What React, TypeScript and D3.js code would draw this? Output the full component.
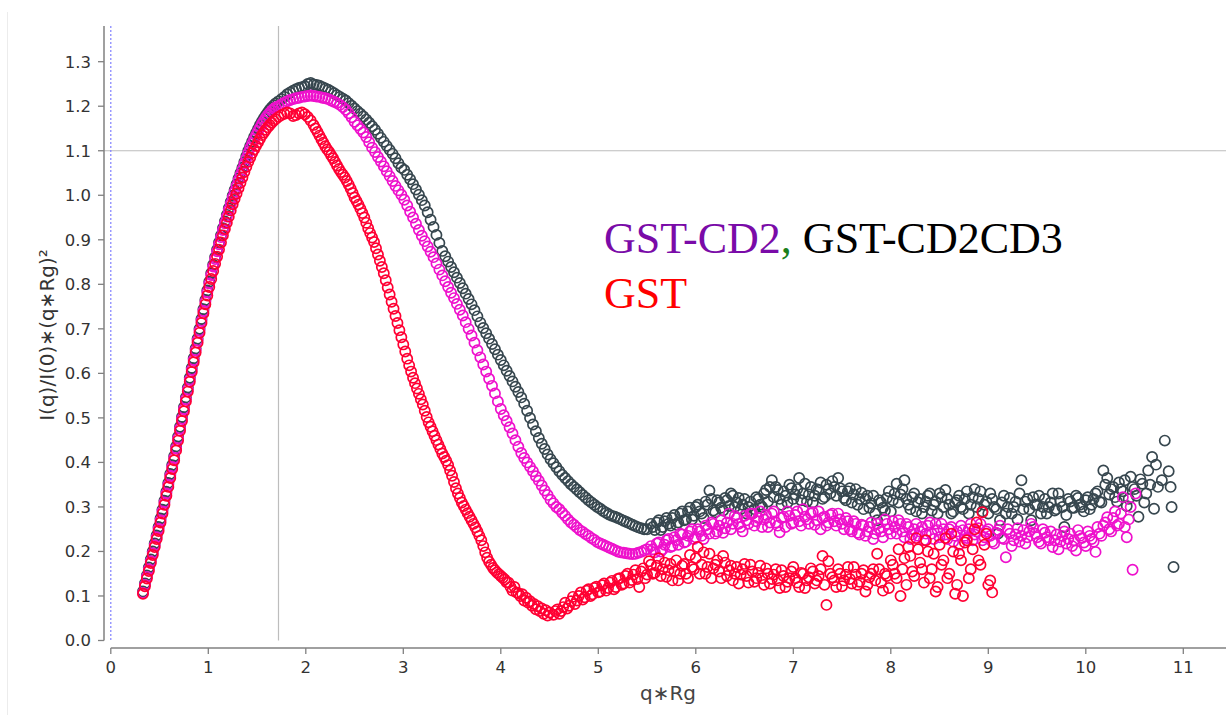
import React from 'react';
import * as d3 from 'd3';

const W = 1226;
const H = 715;

const xTicks = [0, 1, 2, 3, 4, 5, 6, 7, 8, 9, 10, 11];
const yTicks = [0, 0.1, 0.2, 0.3, 0.4, 0.5, 0.6, 0.7, 0.8, 0.9, 1.0, 1.1, 1.2, 1.3];
const xLabel = 'q\u2217Rg';
const yLabel = 'I(q)/I(0)\u2217(q\u2217Rg)\u00B2';
const guideQ = 1.72;
const guideI = 1.1;

type P = [number, number];

// ---------- GST (red) ----------
const GST_RISE: P[] = [[0.33,0.105],[0.35,0.122],[0.37,0.139],[0.39,0.156],[0.41,0.174],[0.43,0.192],[0.45,0.210],[0.47,0.228],[0.49,0.246],[0.51,0.265],[0.53,0.285],[0.55,0.305],[0.57,0.325],[0.59,0.345],[0.61,0.365],[0.63,0.385],[0.65,0.405],[0.67,0.427],[0.69,0.449],[0.71,0.471],[0.73,0.493],[0.75,0.515],[0.77,0.537],[0.79,0.559],[0.81,0.581],[0.83,0.603],[0.85,0.625],[0.87,0.647],[0.89,0.669],[0.91,0.691],[0.93,0.713],[0.95,0.735],[0.97,0.755],[0.99,0.775],[1.01,0.794],[1.03,0.812],[1.05,0.830],[1.07,0.846],[1.09,0.862],[1.11,0.878],[1.13,0.894],[1.15,0.910],[1.17,0.924],[1.19,0.938],[1.21,0.952],[1.23,0.966],[1.25,0.980],[1.27,0.992],[1.29,1.004],[1.31,1.016],[1.33,1.028],[1.35,1.040],[1.37,1.052],[1.39,1.064],[1.41,1.075],[1.43,1.085],[1.45,1.095],[1.47,1.103],[1.49,1.111],[1.51,1.119],[1.53,1.127],[1.55,1.135],[1.57,1.141],[1.59,1.147],[1.61,1.153],[1.63,1.158],[1.65,1.163],[1.67,1.167],[1.69,1.171]];
const GST_PEAK: P[] = [[1.72,1.176],[1.75,1.180],[1.78,1.183],[1.81,1.186],[1.84,1.184],[1.87,1.178],[1.90,1.180],[1.93,1.184],[1.96,1.186],[1.99,1.182],[2.02,1.176],[2.05,1.168],[2.08,1.158]];
const GST_FALL: P[] = [[2.10,1.150],[2.12,1.142],[2.14,1.134],[2.16,1.126],[2.18,1.118],[2.20,1.110],[2.22,1.103],[2.24,1.097],[2.26,1.090],[2.28,1.083],[2.30,1.075],[2.32,1.067],[2.34,1.059],[2.36,1.052],[2.38,1.046],[2.40,1.040],[2.42,1.032],[2.44,1.024],[2.46,1.015],[2.48,1.005],[2.50,0.995],[2.52,0.987],[2.54,0.979],[2.56,0.970],[2.58,0.960],[2.60,0.950],[2.62,0.938],[2.64,0.926],[2.66,0.915],[2.68,0.905],[2.70,0.895],[2.72,0.881],[2.74,0.867],[2.76,0.853],[2.78,0.839],[2.80,0.825],[2.82,0.809],[2.84,0.793],[2.86,0.777],[2.88,0.761],[2.90,0.745],[2.92,0.729],[2.94,0.713],[2.96,0.697],[2.98,0.681],[3.00,0.665],[3.02,0.649],[3.04,0.633],[3.06,0.618],[3.08,0.604],[3.10,0.590],[3.12,0.578],[3.14,0.566],[3.16,0.554],[3.18,0.542],[3.20,0.530],[3.22,0.516],[3.24,0.502],[3.26,0.490],[3.28,0.480],[3.30,0.470],[3.32,0.460],[3.34,0.450],[3.36,0.440],[3.38,0.430],[3.40,0.420],[3.42,0.412],[3.44,0.404],[3.46,0.394],[3.48,0.382],[3.50,0.370],[3.52,0.356],[3.54,0.342],[3.56,0.330],[3.58,0.320],[3.60,0.310],[3.62,0.302],[3.64,0.294],[3.66,0.286],[3.68,0.278],[3.70,0.270],[3.72,0.262],[3.74,0.254],[3.76,0.245],[3.78,0.235],[3.80,0.225],[3.82,0.212],[3.84,0.198],[3.86,0.186],[3.88,0.177],[3.90,0.170],[3.92,0.163],[3.94,0.158],[3.96,0.153],[3.98,0.149],[4.00,0.145],[4.02,0.141],[4.04,0.137],[4.06,0.131],[4.08,0.130],[4.10,0.120],[4.12,0.112],[4.14,0.120],[4.16,0.108],[4.18,0.106],[4.20,0.100],[4.22,0.104],[4.24,0.090],[4.26,0.096],[4.28,0.085],[4.30,0.088],[4.32,0.078],[4.34,0.082],[4.36,0.070],[4.38,0.077],[4.40,0.066],[4.42,0.072],[4.44,0.060],[4.46,0.068],[4.48,0.056],[4.50,0.063]];
const GST_TAIL: P[] = [[4.54,0.058],[4.58,0.070],[4.62,0.066],[4.66,0.085],[4.70,0.078],[4.74,0.098],[4.78,0.090],[4.82,0.108],[4.86,0.097],[4.90,0.115],[4.94,0.104],[4.98,0.121],[5.02,0.110],[5.06,0.128],[5.10,0.118],[5.14,0.134],[5.18,0.120],[5.22,0.140],[5.26,0.128],[5.30,0.150],[5.34,0.136],[5.38,0.158],[5.42,0.120],[5.46,0.162],[5.50,0.148],[5.54,0.170],[5.58,0.152],[5.62,0.185],[5.66,0.160],[5.70,0.143],[5.74,0.172],[5.78,0.155],[5.82,0.135],[5.86,0.168],[5.90,0.150],[5.94,0.192],[5.98,0.160],[6.02,0.210],[6.06,0.170],[6.10,0.150],[6.14,0.195],[6.18,0.162],[6.22,0.180],[6.26,0.140],[6.30,0.175],[6.34,0.158],[6.38,0.135],[6.42,0.165],[6.46,0.148],[6.50,0.172],[6.54,0.130],[6.58,0.155],[6.62,0.140],[6.66,0.168],[6.70,0.125],[6.74,0.150],[6.78,0.138],[6.82,0.160],[6.86,0.118],[6.90,0.145],[6.94,0.132],[6.98,0.155],[7.02,0.140],[7.06,0.120],[7.10,0.150],[7.14,0.135],[7.18,0.162],[7.22,0.128],[7.26,0.145],[7.30,0.190],[7.34,0.080],[7.38,0.150],[7.42,0.135],[7.46,0.160],[7.50,0.122],[7.54,0.148],[7.58,0.138],[7.62,0.165],[7.66,0.125],[7.70,0.150],[7.74,0.110],[7.78,0.142],[7.82,0.160],[7.86,0.195],[7.90,0.130],[7.94,0.150],[7.98,0.118],[8.02,0.170],[8.06,0.140],[8.10,0.100],[8.14,0.185],[8.18,0.210],[8.22,0.155],[8.26,0.230],[8.30,0.175],[8.34,0.130],[8.38,0.200],[8.42,0.160],[8.46,0.110],[8.50,0.215],[8.54,0.180],[8.58,0.140],[8.62,0.240],[8.66,0.105],[8.70,0.195],[8.74,0.100],[8.78,0.225],[8.82,0.160],[8.86,0.250],[8.90,0.180],[8.94,0.288],[8.98,0.240],[9.02,0.135],[9.04,0.108]];
const GST_TAIL2: P[] = [[4.56,0.066],[4.60,0.060],[4.64,0.075],[4.68,0.072],[4.72,0.088],[4.76,0.082],[4.80,0.100],[4.84,0.092],[4.88,0.112],[4.92,0.100],[4.96,0.118],[5.00,0.108],[5.04,0.124],[5.08,0.112],[5.12,0.130],[5.16,0.115],[5.20,0.138],[5.24,0.125],[5.28,0.145],[5.32,0.130],[5.36,0.148],[5.40,0.138],[5.44,0.155],[5.48,0.140],[5.52,0.178],[5.56,0.150],[5.60,0.168],[5.64,0.145],[5.68,0.175],[5.72,0.158],[5.76,0.135],[5.80,0.180],[5.84,0.150],[5.88,0.172],[5.92,0.140],[5.96,0.165],[6.00,0.185],[6.04,0.150],[6.08,0.198],[6.12,0.165],[6.16,0.140],[6.20,0.170],[6.24,0.155],[6.28,0.190],[6.32,0.145],[6.36,0.168],[6.40,0.150],[6.44,0.128],[6.48,0.160],[6.52,0.145],[6.56,0.170],[6.60,0.132],[6.64,0.152],[6.68,0.140],[6.72,0.162],[6.76,0.128],[6.80,0.148],[6.84,0.135],[6.88,0.158],[6.92,0.120],[6.96,0.140],[7.00,0.165],[7.04,0.130],[7.08,0.152],[7.12,0.118],[7.16,0.142],[7.20,0.155],[7.24,0.135],[7.28,0.160],[7.32,0.125],[7.36,0.178],[7.40,0.142],[7.44,0.120],[7.48,0.150],[7.52,0.135],[7.56,0.165],[7.60,0.128],[7.64,0.148],[7.68,0.132],[7.72,0.158],[7.76,0.125],[7.80,0.150],[7.84,0.135],[7.88,0.160],[7.92,0.112],[7.96,0.145],[8.00,0.180],[8.04,0.150],[8.08,0.205],[8.12,0.160],[8.16,0.125],[8.20,0.190],[8.24,0.145],[8.28,0.205],[8.32,0.160],[8.36,0.225],[8.40,0.140],[8.44,0.195],[8.48,0.120],[8.52,0.170],[8.56,0.230],[8.60,0.150],[8.64,0.200],[8.68,0.125],[8.72,0.180],[8.76,0.220],[8.80,0.140],[8.84,0.205],[8.88,0.265],[8.92,0.170],[8.96,0.215],[9.00,0.125]];

// ---------- GST-CD2 (magenta) ----------
const CD2_RISE: P[] = [[0.33,0.107],[0.35,0.125],[0.37,0.143],[0.39,0.160],[0.41,0.178],[0.43,0.196],[0.45,0.214],[0.47,0.232],[0.49,0.251],[0.51,0.270],[0.53,0.290],[0.55,0.310],[0.57,0.330],[0.59,0.350],[0.61,0.370],[0.63,0.390],[0.65,0.410],[0.67,0.432],[0.69,0.454],[0.71,0.476],[0.73,0.498],[0.75,0.520],[0.77,0.542],[0.79,0.564],[0.81,0.586],[0.83,0.608],[0.85,0.630],[0.87,0.652],[0.89,0.674],[0.91,0.696],[0.93,0.718],[0.95,0.740],[0.97,0.761],[0.99,0.782],[1.01,0.802],[1.03,0.821],[1.05,0.840],[1.07,0.857],[1.09,0.874],[1.11,0.890],[1.13,0.906],[1.15,0.922],[1.17,0.937],[1.19,0.952],[1.21,0.967],[1.23,0.981],[1.25,0.995],[1.27,1.008],[1.29,1.021],[1.31,1.034],[1.33,1.046],[1.35,1.058],[1.37,1.071],[1.39,1.083],[1.41,1.095],[1.43,1.106],[1.45,1.116],[1.47,1.126],[1.49,1.135],[1.51,1.144],[1.53,1.152],[1.55,1.160],[1.57,1.167],[1.59,1.174],[1.61,1.180],[1.63,1.185],[1.65,1.190],[1.67,1.194],[1.69,1.197]];
const CD2_FALL: P[] = [[1.72,1.200],[1.75,1.204],[1.78,1.208],[1.81,1.211],[1.84,1.214],[1.87,1.216],[1.90,1.218],[1.93,1.219],[1.96,1.221],[1.99,1.222],[2.02,1.223],[2.05,1.224],[2.08,1.223],[2.11,1.222],[2.14,1.221],[2.17,1.219],[2.20,1.218],[2.23,1.216],[2.26,1.213],[2.29,1.210],[2.32,1.207],[2.35,1.203],[2.38,1.198],[2.41,1.192],[2.44,1.184],[2.47,1.175],[2.50,1.165],[2.53,1.157],[2.56,1.149],[2.59,1.141],[2.62,1.131],[2.65,1.119],[2.68,1.107],[2.71,1.097],[2.74,1.086],[2.77,1.076],[2.80,1.065],[2.83,1.054],[2.86,1.043],[2.89,1.032],[2.92,1.021],[2.95,1.011],[2.98,1.001],[3.01,0.990],[3.04,0.977],[3.07,0.963],[3.10,0.950],[3.13,0.936],[3.16,0.922],[3.19,0.909],[3.22,0.897],[3.25,0.885],[3.28,0.873],[3.31,0.861],[3.34,0.847],[3.37,0.833],[3.40,0.820],[3.43,0.807],[3.46,0.794],[3.49,0.781],[3.52,0.769],[3.55,0.756],[3.58,0.743],[3.61,0.730],[3.64,0.715],[3.67,0.700],[3.70,0.685],[3.73,0.669],[3.76,0.652],[3.79,0.636],[3.82,0.620],[3.85,0.604],[3.88,0.588],[3.91,0.572],[3.94,0.555],[3.97,0.537],[4.00,0.520],[4.03,0.506],[4.06,0.493],[4.09,0.479],[4.12,0.465],[4.15,0.450],[4.18,0.435],[4.21,0.421],[4.24,0.410],[4.27,0.400],[4.30,0.390],[4.33,0.380],[4.36,0.369],[4.39,0.359],[4.42,0.348],[4.45,0.337],[4.48,0.327],[4.51,0.316],[4.54,0.308],[4.57,0.300],[4.60,0.295],[4.63,0.287],[4.66,0.280],[4.69,0.272],[4.72,0.265],[4.75,0.260],[4.78,0.254],[4.81,0.248],[4.84,0.244],[4.87,0.239],[4.90,0.235],[4.93,0.230],[4.96,0.226],[4.99,0.221],[5.02,0.218],[5.05,0.215],[5.08,0.212],[5.11,0.209],[5.14,0.206],[5.17,0.203],[5.20,0.200],[5.23,0.198],[5.26,0.197],[5.29,0.196],[5.32,0.195],[5.35,0.194],[5.38,0.195],[5.41,0.197],[5.44,0.199],[5.47,0.202],[5.50,0.205]];
const CD2_TAIL: P[] = [[5.54,0.212],[5.58,0.198],[5.62,0.220],[5.66,0.205],[5.70,0.225],[5.74,0.210],[5.78,0.232],[5.82,0.215],[5.86,0.238],[5.90,0.222],[5.94,0.245],[5.98,0.228],[6.02,0.250],[6.06,0.235],[6.10,0.258],[6.14,0.240],[6.18,0.262],[6.22,0.245],[6.26,0.270],[6.30,0.252],[6.34,0.285],[6.38,0.262],[6.42,0.275],[6.46,0.255],[6.50,0.280],[6.54,0.262],[6.58,0.285],[6.62,0.268],[6.66,0.290],[6.70,0.272],[6.74,0.255],[6.78,0.285],[6.82,0.265],[6.86,0.243],[6.90,0.278],[6.94,0.290],[6.98,0.262],[7.02,0.282],[7.06,0.268],[7.10,0.295],[7.14,0.272],[7.18,0.285],[7.22,0.260],[7.26,0.290],[7.30,0.275],[7.34,0.258],[7.38,0.282],[7.42,0.268],[7.46,0.285],[7.50,0.262],[7.54,0.275],[7.58,0.250],[7.62,0.268],[7.66,0.242],[7.70,0.260],[7.74,0.235],[7.78,0.255],[7.82,0.228],[7.86,0.262],[7.90,0.245],[7.94,0.272],[7.98,0.250],[8.02,0.268],[8.06,0.240],[8.10,0.262],[8.14,0.232],[8.18,0.255],[8.22,0.238],[8.26,0.262],[8.30,0.245],[8.34,0.225],[8.38,0.258],[8.42,0.240],[8.46,0.262],[8.50,0.232],[8.54,0.250],[8.58,0.228],[8.62,0.255],[8.66,0.235],[8.70,0.215],[8.74,0.248],[8.78,0.230],[8.82,0.262],[8.86,0.238],[8.90,0.252],[8.94,0.225],[8.98,0.245],[9.02,0.235],[9.06,0.218],[9.10,0.248],[9.14,0.230],[9.18,0.187],[9.22,0.240],[9.26,0.225],[9.30,0.252],[9.34,0.235],[9.38,0.218],[9.42,0.245],[9.46,0.255],[9.50,0.232],[9.54,0.218],[9.58,0.242],[9.62,0.225],[9.66,0.210],[9.70,0.238],[9.74,0.222],[9.78,0.245],[9.82,0.228],[9.86,0.212],[9.90,0.202],[9.94,0.235],[9.98,0.220],[10.02,0.245],[10.06,0.228],[10.10,0.199],[10.14,0.240],[10.18,0.258],[10.22,0.277],[10.26,0.245],[10.30,0.290],[10.34,0.262],[10.38,0.322],[10.42,0.232],[10.46,0.300],[10.48,0.159],[10.51,0.330]];
const CD2_TAIL2: P[] = [[5.56,0.205],[5.60,0.218],[5.64,0.200],[5.68,0.215],[5.72,0.228],[5.76,0.212],[5.80,0.225],[5.84,0.240],[5.88,0.220],[5.92,0.235],[5.96,0.250],[6.00,0.232],[6.04,0.245],[6.08,0.228],[6.12,0.250],[6.16,0.265],[6.20,0.240],[6.24,0.258],[6.28,0.242],[6.32,0.265],[6.36,0.250],[6.40,0.280],[6.44,0.262],[6.48,0.245],[6.52,0.270],[6.56,0.285],[6.60,0.258],[6.64,0.275],[6.68,0.255],[6.72,0.282],[6.76,0.265],[6.80,0.290],[6.84,0.258],[6.88,0.275],[6.92,0.255],[6.96,0.280],[7.00,0.265],[7.04,0.290],[7.08,0.258],[7.12,0.278],[7.16,0.262],[7.20,0.288],[7.24,0.270],[7.28,0.250],[7.32,0.278],[7.36,0.265],[7.40,0.285],[7.44,0.258],[7.48,0.272],[7.52,0.250],[7.56,0.268],[7.60,0.245],[7.64,0.262],[7.68,0.238],[7.72,0.258],[7.76,0.245],[7.80,0.265],[7.84,0.240],[7.88,0.252],[7.92,0.232],[7.96,0.262],[8.00,0.240],[8.04,0.255],[8.08,0.270],[8.12,0.245],[8.16,0.262],[8.20,0.228],[8.24,0.250],[8.28,0.235],[8.32,0.255],[8.36,0.240],[8.40,0.265],[8.44,0.228],[8.48,0.248],[8.52,0.262],[8.56,0.238],[8.60,0.250],[8.64,0.222],[8.68,0.245],[8.72,0.258],[8.76,0.235],[8.80,0.250],[8.84,0.225],[8.88,0.245],[8.92,0.262],[8.96,0.232],[9.00,0.250],[9.04,0.222],[9.08,0.242],[9.12,0.258],[9.16,0.228],[9.20,0.250],[9.24,0.212],[9.28,0.238],[9.32,0.222],[9.36,0.248],[9.40,0.232],[9.44,0.262],[9.48,0.240],[9.52,0.222],[9.56,0.250],[9.60,0.232],[9.64,0.245],[9.68,0.225],[9.72,0.205],[9.76,0.235],[9.80,0.218],[9.84,0.240],[9.88,0.225],[9.92,0.248],[9.96,0.230],[10.00,0.212],[10.04,0.235],[10.08,0.222],[10.12,0.255],[10.16,0.235],[10.20,0.265],[10.24,0.250],[10.28,0.275],[10.32,0.258],[10.36,0.285],[10.40,0.255],[10.44,0.272]];

// ---------- GST-CD2CD3 (dark slate) ----------
const CD2CD3_RISE: P[] = [[0.33,0.110],[0.35,0.128],[0.37,0.146],[0.39,0.164],[0.41,0.182],[0.43,0.200],[0.45,0.218],[0.47,0.236],[0.49,0.255],[0.51,0.274],[0.53,0.294],[0.55,0.314],[0.57,0.334],[0.59,0.354],[0.61,0.374],[0.63,0.394],[0.65,0.414],[0.67,0.436],[0.69,0.458],[0.71,0.480],[0.73,0.502],[0.75,0.524],[0.77,0.546],[0.79,0.568],[0.81,0.590],[0.83,0.612],[0.85,0.634],[0.87,0.656],[0.89,0.678],[0.91,0.700],[0.93,0.722],[0.95,0.744],[0.97,0.765],[0.99,0.786],[1.01,0.806],[1.03,0.825],[1.05,0.844],[1.07,0.861],[1.09,0.878],[1.11,0.894],[1.13,0.910],[1.15,0.926],[1.17,0.941],[1.19,0.956],[1.21,0.971],[1.23,0.985],[1.25,0.999],[1.27,1.012],[1.29,1.025],[1.31,1.038],[1.33,1.050],[1.35,1.062],[1.37,1.075],[1.39,1.088],[1.41,1.100],[1.43,1.111],[1.45,1.121],[1.47,1.131],[1.49,1.140],[1.51,1.149],[1.53,1.158],[1.55,1.166],[1.57,1.173],[1.59,1.180],[1.61,1.186],[1.63,1.192],[1.65,1.197],[1.67,1.202],[1.69,1.206]];
const CD2CD3_FALL: P[] = [[1.72,1.211],[1.75,1.216],[1.78,1.221],[1.81,1.227],[1.84,1.231],[1.87,1.235],[1.90,1.238],[1.93,1.241],[1.96,1.243],[1.99,1.245],[2.02,1.250],[2.05,1.252],[2.08,1.249],[2.11,1.248],[2.14,1.246],[2.17,1.243],[2.20,1.240],[2.23,1.237],[2.26,1.233],[2.29,1.229],[2.32,1.225],[2.35,1.221],[2.38,1.217],[2.41,1.213],[2.44,1.207],[2.47,1.201],[2.50,1.195],[2.53,1.189],[2.56,1.183],[2.59,1.177],[2.62,1.170],[2.65,1.163],[2.68,1.155],[2.71,1.147],[2.74,1.138],[2.77,1.129],[2.80,1.120],[2.83,1.111],[2.86,1.102],[2.89,1.093],[2.92,1.083],[2.95,1.072],[2.98,1.062],[3.01,1.057],[3.04,1.046],[3.07,1.036],[3.10,1.025],[3.13,1.013],[3.16,1.001],[3.19,0.989],[3.22,0.977],[3.25,0.962],[3.28,0.945],[3.31,0.929],[3.34,0.911],[3.37,0.893],[3.40,0.875],[3.43,0.863],[3.46,0.851],[3.49,0.839],[3.52,0.827],[3.55,0.815],[3.58,0.803],[3.61,0.791],[3.64,0.779],[3.67,0.767],[3.70,0.755],[3.73,0.742],[3.76,0.728],[3.79,0.714],[3.82,0.702],[3.85,0.690],[3.88,0.678],[3.91,0.666],[3.94,0.654],[3.97,0.642],[4.00,0.630],[4.03,0.618],[4.06,0.606],[4.09,0.594],[4.12,0.582],[4.15,0.570],[4.18,0.558],[4.21,0.546],[4.24,0.532],[4.27,0.516],[4.30,0.500],[4.33,0.485],[4.36,0.470],[4.39,0.455],[4.42,0.442],[4.45,0.430],[4.48,0.418],[4.51,0.407],[4.54,0.398],[4.57,0.389],[4.60,0.380],[4.63,0.372],[4.66,0.365],[4.69,0.358],[4.72,0.351],[4.75,0.345],[4.78,0.339],[4.81,0.333],[4.84,0.327],[4.87,0.321],[4.90,0.315],[4.93,0.310],[4.96,0.305],[4.99,0.300],[5.02,0.296],[5.05,0.291],[5.08,0.287],[5.11,0.283],[5.14,0.280],[5.17,0.278],[5.20,0.275],[5.23,0.272],[5.26,0.269],[5.29,0.266],[5.32,0.263],[5.35,0.260],[5.38,0.257],[5.41,0.254],[5.44,0.252],[5.47,0.250],[5.50,0.250]];
const CD2CD3_TAIL: P[] = [[5.54,0.262],[5.58,0.248],[5.62,0.270],[5.66,0.255],[5.70,0.275],[5.74,0.258],[5.78,0.282],[5.82,0.265],[5.86,0.290],[5.90,0.272],[5.94,0.298],[5.98,0.280],[6.02,0.305],[6.06,0.285],[6.10,0.312],[6.14,0.337],[6.18,0.292],[6.22,0.315],[6.26,0.298],[6.30,0.320],[6.34,0.302],[6.38,0.325],[6.42,0.310],[6.46,0.295],[6.50,0.318],[6.54,0.300],[6.58,0.285],[6.62,0.322],[6.66,0.305],[6.70,0.330],[6.74,0.312],[6.78,0.360],[6.82,0.345],[6.86,0.318],[6.90,0.335],[6.94,0.310],[6.98,0.342],[7.02,0.328],[7.06,0.365],[7.10,0.330],[7.14,0.312],[7.18,0.345],[7.22,0.325],[7.26,0.338],[7.30,0.318],[7.34,0.350],[7.38,0.330],[7.42,0.345],[7.46,0.365],[7.50,0.335],[7.54,0.315],[7.58,0.342],[7.62,0.328],[7.66,0.305],[7.70,0.332],[7.74,0.318],[7.78,0.298],[7.82,0.325],[7.86,0.270],[7.90,0.310],[7.94,0.292],[7.98,0.335],[8.02,0.315],[8.06,0.352],[8.10,0.328],[8.14,0.360],[8.18,0.305],[8.22,0.322],[8.26,0.290],[8.30,0.318],[8.34,0.300],[8.38,0.325],[8.42,0.292],[8.46,0.312],[8.50,0.330],[8.54,0.300],[8.58,0.318],[8.62,0.285],[8.66,0.310],[8.70,0.325],[8.74,0.295],[8.78,0.335],[8.82,0.305],[8.86,0.340],[8.90,0.318],[8.94,0.290],[8.98,0.312],[9.02,0.330],[9.06,0.300],[9.10,0.240],[9.14,0.310],[9.18,0.285],[9.22,0.320],[9.26,0.300],[9.30,0.272],[9.34,0.360],[9.38,0.312],[9.42,0.295],[9.46,0.322],[9.50,0.305],[9.54,0.285],[9.58,0.318],[9.62,0.300],[9.66,0.330],[9.70,0.295],[9.74,0.312],[9.78,0.255],[9.82,0.318],[9.86,0.298],[9.90,0.325],[9.94,0.305],[9.98,0.290],[10.02,0.322],[10.06,0.305],[10.10,0.330],[10.14,0.312],[10.18,0.382],[10.22,0.365],[10.26,0.340],[10.30,0.322],[10.34,0.355],[10.38,0.335],[10.42,0.302],[10.46,0.368],[10.50,0.340],[10.54,0.278],[10.58,0.352],[10.62,0.330],[10.64,0.382],[10.68,0.412],[10.70,0.296],[10.74,0.345],[10.78,0.360],[10.81,0.449],[10.85,0.380],[10.87,0.345],[10.88,0.300],[10.90,0.165]];
const CD2CD3_TAIL2: P[] = [[5.56,0.255],[5.60,0.265],[5.64,0.248],[5.68,0.268],[5.72,0.262],[5.76,0.275],[5.80,0.260],[5.84,0.285],[5.88,0.270],[5.92,0.290],[5.96,0.272],[6.00,0.300],[6.04,0.290],[6.08,0.275],[6.12,0.305],[6.16,0.318],[6.20,0.288],[6.24,0.310],[6.28,0.292],[6.32,0.315],[6.36,0.330],[6.40,0.300],[6.44,0.320],[6.48,0.305],[6.52,0.285],[6.56,0.312],[6.60,0.295],[6.64,0.318],[6.68,0.300],[6.72,0.338],[6.76,0.345],[6.80,0.322],[6.84,0.338],[6.88,0.305],[6.92,0.325],[6.96,0.350],[7.00,0.318],[7.04,0.340],[7.08,0.315],[7.12,0.352],[7.16,0.328],[7.20,0.310],[7.24,0.340],[7.28,0.355],[7.32,0.322],[7.36,0.340],[7.40,0.358],[7.44,0.325],[7.48,0.342],[7.52,0.320],[7.56,0.335],[7.60,0.310],[7.64,0.340],[7.68,0.318],[7.72,0.295],[7.76,0.325],[7.80,0.308],[7.84,0.285],[7.88,0.315],[7.92,0.298],[7.96,0.320],[8.00,0.290],[8.04,0.330],[8.08,0.310],[8.12,0.340],[8.16,0.318],[8.20,0.295],[8.24,0.330],[8.28,0.310],[8.32,0.285],[8.36,0.312],[8.40,0.330],[8.44,0.305],[8.48,0.285],[8.52,0.322],[8.56,0.338],[8.60,0.305],[8.64,0.290],[8.68,0.315],[8.72,0.300],[8.76,0.318],[8.80,0.285],[8.84,0.322],[8.88,0.300],[8.92,0.335],[8.96,0.305],[9.00,0.285],[9.04,0.318],[9.08,0.295],[9.12,0.270],[9.16,0.325],[9.20,0.300],[9.24,0.285],[9.28,0.312],[9.32,0.330],[9.36,0.295],[9.40,0.318],[9.44,0.270],[9.48,0.305],[9.52,0.325],[9.56,0.300],[9.60,0.285],[9.64,0.310],[9.68,0.292],[9.72,0.330],[9.76,0.300],[9.80,0.282],[9.84,0.312],[9.88,0.298],[9.92,0.320],[9.96,0.300],[10.00,0.315],[10.04,0.295],[10.08,0.318],[10.12,0.335],[10.16,0.310],[10.20,0.350],[10.24,0.328],[10.28,0.345],[10.32,0.312],[10.36,0.340],[10.40,0.360],[10.44,0.318],[10.48,0.345],[10.52,0.325],[10.56,0.362],[10.60,0.310],[10.66,0.350],[10.72,0.395]];

const seriesList = [
  { name: 'GST-CD2CD3', color: '#37474f', data: [...CD2CD3_RISE, ...CD2CD3_FALL, ...CD2CD3_TAIL, ...CD2CD3_TAIL2] },
  { name: 'GST-CD2', color: '#ee11cc', data: [...CD2_RISE, ...CD2_FALL, ...CD2_TAIL, ...CD2_TAIL2] },
  { name: 'GST', color: '#ff0033', data: [...GST_RISE, ...GST_PEAK, ...GST_FALL, ...GST_TAIL, ...GST_TAIL2] },
];

export default function App() {
  const x = d3.scaleLinear().domain([0, 11]).range([110.8, 1183.3]);
  const y = d3.scaleLinear().domain([0, 1.3]).range([640.5, 61.7]);
  const axisColor = '#808080';
  const tickFont = '"DejaVu Sans", Verdana, sans-serif';
  const plotTop = 26;
  const yAxisX = 104;
  const xAxisY = 648;

  return (
    <svg width={W} height={H} style={{ position: 'absolute', left: 0, top: 0, background: '#fff' }}>
      <rect x={0} y={0} width={W} height={H} fill="#fff" />
      <line x1={7.5} y1={12} x2={7.5} y2={H} stroke="#ececec" strokeWidth={1} />

      {/* guide lines */}
      <line x1={x(guideQ)} y1={plotTop} x2={x(guideQ)} y2={y(0)} stroke="#bdbdbd" strokeWidth={1.2} />
      <line x1={yAxisX} y1={y(guideI)} x2={W} y2={y(guideI)} stroke="#bdbdbd" strokeWidth={1.2} />
      <line x1={x(0)} y1={plotTop} x2={x(0)} y2={y(0)} stroke="#7f7fff" strokeWidth={1.2} strokeDasharray="2,2" />

      {/* y axis */}
      <line x1={yAxisX} y1={plotTop} x2={yAxisX} y2={y(0)} stroke={axisColor} strokeWidth={1.5} />
      {yTicks.map((t) => (
        <g key={'y' + t}>
          <line x1={yAxisX - 6} y1={y(t)} x2={yAxisX} y2={y(t)} stroke={axisColor} strokeWidth={1.3} />
          <text x={91} y={y(t)} dy="0.36em" textAnchor="end" fontFamily={tickFont} fontSize={16.5} fill="#333">
            {d3.format('.1f')(t)}
          </text>
        </g>
      ))}

      {/* x axis */}
      <line x1={x(0)} y1={xAxisY} x2={W} y2={xAxisY} stroke={axisColor} strokeWidth={1.5} />
      {xTicks.map((t) => (
        <g key={'x' + t}>
          <line x1={x(t)} y1={xAxisY} x2={x(t)} y2={xAxisY + 6} stroke={axisColor} strokeWidth={1.3} />
          <text x={x(t)} y={673} textAnchor="middle" fontFamily={tickFont} fontSize={16.5} fill="#333">
            {t}
          </text>
        </g>
      ))}

      {/* axis labels */}
      <text x={668} y={700} textAnchor="middle" fontFamily={tickFont} fontSize={20} fill="#444">
        {xLabel}
      </text>
      <text transform="translate(54,335) rotate(-90)" textAnchor="middle" fontFamily={tickFont} fontSize={20} fill="#333">
        {yLabel}
      </text>

      {/* data */}
      {seriesList.map((s) => (
        <g key={s.name} fill="none" stroke={s.color} strokeWidth={1.7}>
          {s.data.map((d, i) => (
            <circle key={i} cx={x(d[0])} cy={y(d[1])} r={5.1} />
          ))}
        </g>
      ))}

      {/* legend annotation */}
      <text x={604} y={253} fontFamily='"Liberation Serif", "Times New Roman", serif' fontSize={44}>
        <tspan fill="#7a0ba8">GST-CD2</tspan>
        <tspan fill="#1b7f1b">,</tspan>
        <tspan fill="#000"> GST-CD2CD3</tspan>
      </text>
      <text x={604} y={308} fontFamily='"Liberation Serif", "Times New Roman", serif' fontSize={44} fill="#ff0000">
        GST
      </text>
    </svg>
  );
}
